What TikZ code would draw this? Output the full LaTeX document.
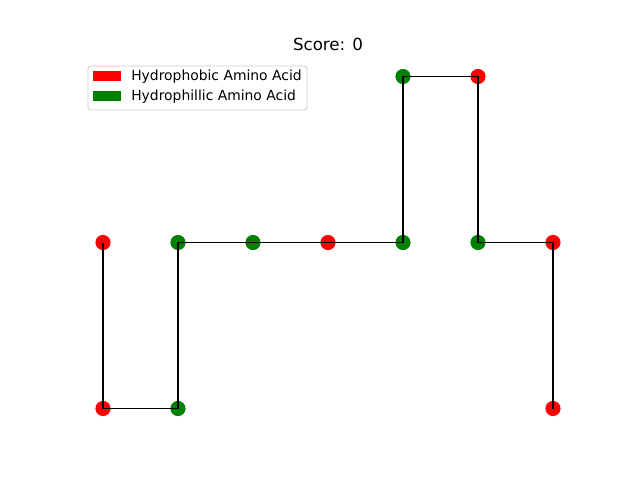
\documentclass[tikz,border=0pt]{standalone}
\usepackage{fontspec}
\setmainfont{DejaVu Sans}
\definecolor{mplgreen}{RGB}{0,128,0}
\definecolor{legedge}{RGB}{204,204,204}
\begin{document}
\begin{tikzpicture}[x=0.72pt,y=-0.72pt,
  hphob/.style={circle,fill=red,inner sep=0pt,minimum size=10.9pt},
  hphil/.style={circle,fill=mplgreen,inner sep=0pt,minimum size=10.9pt},
  chain/.style={line width=1.1pt,black},
  lbl/.style={anchor=west,font=\fontsize{10}{12}\selectfont,inner sep=0pt}]
\useasboundingbox (0,0) rectangle (640,480);
\node[font=\fontsize{12}{14}\selectfont] (title) at (328,44.5) {Score: 0};
% legend
\draw[rounded corners=2pt,draw=legedge,fill=white,line width=0.6pt] (88,66) rectangle (307,110);
\fill[red] (93,71) rectangle (121,81);
\fill[mplgreen] (93,91) rectangle (121,101);
\node[lbl] (l1) at (131,76.5) {Hydrophobic Amino Acid};
\node[lbl] (l2) at (131,97) {Hydrophillic Amino Acid};
% amino acids
\node[hphob] (a1) at (103,242.5) {};
\node[hphob] (a2) at (103,408.5) {};
\node[hphil] (a3) at (178,408.5) {};
\node[hphil] (a4) at (178,242.5) {};
\node[hphil] (a5) at (253,242.5) {};
\node[hphob] (a6) at (328,242.5) {};
\node[hphil] (a7) at (403,242.5) {};
\node[hphil] (a8) at (403,76.5) {};
\node[hphob] (a9) at (478,76.5) {};
\node[hphil] (a10) at (478,242.5) {};
\node[hphob] (a11) at (553,242.5) {};
\node[hphob] (a12) at (553,408.5) {};
\draw[chain] (a1.center) -- (a2.center) -- (a3.center) -- (a4.center) -- (a5.center) -- (a6.center) -- (a7.center) -- (a8.center) -- (a9.center) -- (a10.center) -- (a11.center) -- (a12.center);
\end{tikzpicture}
\end{document}
